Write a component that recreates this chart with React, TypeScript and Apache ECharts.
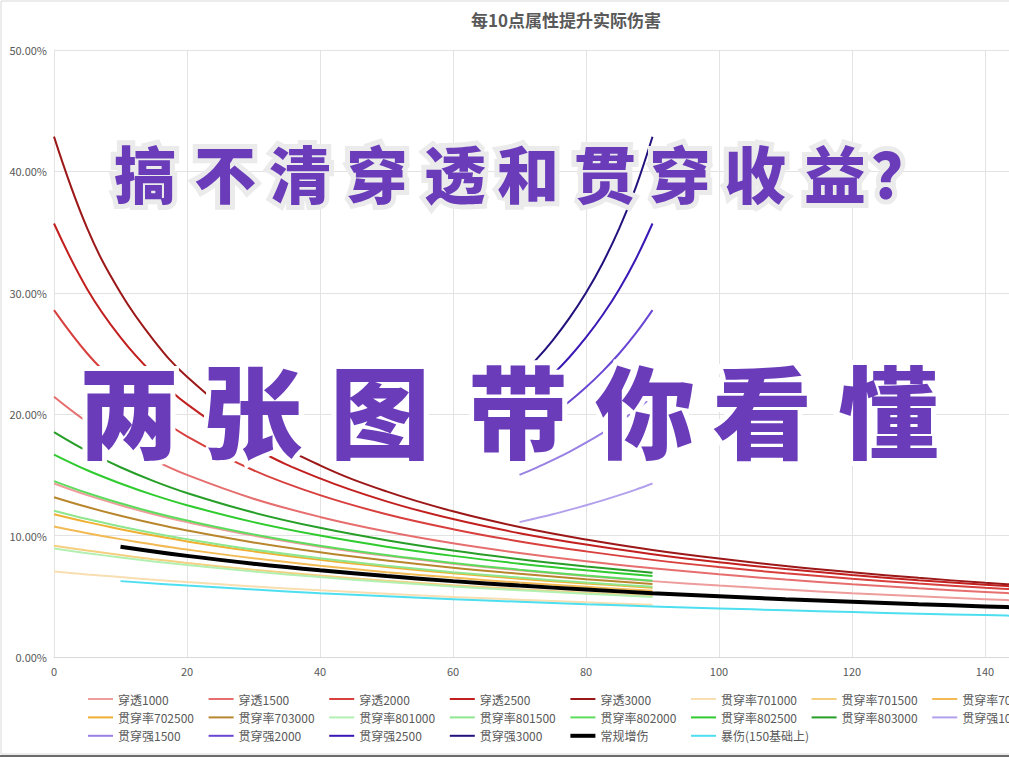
import React, { useEffect, useRef } from 'react';
import * as echarts from 'echarts';

const titleText = '每10点属性提升实际伤害';
const overlayLine1 = '搞不清穿透和贯穿收益？';
const overlayLine2 = '两张图带你看懂';

// x positions
const xPen = [0, 5, 10, 15, 20, 30, 40, 50, 60, 70, 80, 90, 100, 110, 120, 130, 140, 150];
const xRate = [0, 5, 10, 15, 20, 30, 40, 50, 60, 70, 80, 90];
const xStr = [70, 72.5, 75, 77.5, 80, 82.5, 85, 87.5, 90];
const xBase = [10, 20, 30, 40, 50, 60, 70, 80, 90, 100, 110, 120, 130, 140, 150];

// 穿透
const pen1000 = [14.29, 13.33, 12.5, 11.76, 11.11, 10.0, 9.09, 8.33, 7.69, 7.14, 6.67, 6.25, 5.88, 5.56, 5.26, 5.0, 4.76, 4.55];
const pen1500 = [21.43, 19.35, 17.65, 16.22, 15.0, 13.04, 11.54, 10.34, 9.37, 8.57, 7.89, 7.32, 6.82, 6.38, 6.0, 5.66, 5.36, 5.08];
const pen2000 = [28.57, 25.0, 22.22, 20.0, 18.18, 15.38, 13.33, 11.76, 10.53, 9.52, 8.7, 8.0, 7.41, 6.9, 6.45, 6.06, 5.71, 5.41];
const pen2500 = [35.71, 30.3, 26.32, 23.26, 20.83, 17.24, 14.71, 12.82, 11.36, 10.2, 9.26, 8.47, 7.81, 7.25, 6.76, 6.33, 5.95, 5.62];
const pen3000 = [42.86, 35.3, 30.0, 26.09, 23.08, 18.75, 15.79, 13.64, 12.0, 10.71, 9.68, 8.82, 8.11, 7.5, 6.98, 6.52, 6.12, 5.77];

// 贯穿率
const rate701000 = [7.04, 6.8, 6.58, 6.37, 6.17, 5.81, 5.49, 5.21, 4.95, 4.72, 4.5, 4.31];
const rate701500 = [9.17, 8.77, 8.4, 8.06, 7.75, 7.19, 6.71, 6.29, 5.92, 5.59, 5.29, 5.03];
const rate702000 = [10.75, 10.2, 9.71, 9.26, 8.85, 8.13, 7.52, 6.99, 6.54, 6.13, 5.78, 5.46];
const rate702500 = [11.76, 11.11, 10.53, 10.0, 9.52, 8.7, 8.0, 7.41, 6.9, 6.45, 6.06, 5.71];
const rate703000 = [13.16, 12.35, 11.63, 10.99, 10.42, 9.43, 8.62, 7.94, 7.35, 6.85, 6.41, 6.02];
const rate801000 = [8.93, 8.55, 8.2, 7.87, 7.58, 7.04, 6.58, 6.17, 5.81, 5.49, 5.21, 4.95];
const rate801500 = [12.05, 11.36, 10.75, 10.2, 9.71, 8.85, 8.13, 7.52, 6.99, 6.54, 6.13, 5.78];
const rate802000 = [14.49, 13.51, 12.66, 11.9, 11.24, 10.1, 9.17, 8.4, 7.75, 7.19, 6.71, 6.29];
const rate802500 = [16.67, 15.38, 14.29, 13.33, 12.5, 11.11, 10.0, 9.09, 8.33, 7.69, 7.14, 6.67];
const rate803000 = [18.52, 16.95, 15.63, 14.49, 13.51, 11.9, 10.64, 9.62, 8.77, 8.06, 7.46, 6.94];

// 贯穿强
const str1000 = [11.11, 11.43, 11.76, 12.12, 12.5, 12.9, 13.33, 13.79, 14.29];
const str1500 = [15.0, 15.58, 16.22, 16.9, 17.65, 18.46, 19.35, 20.34, 21.43];
const str2000 = [18.18, 19.05, 20.0, 21.05, 22.22, 23.53, 25.0, 26.67, 28.57];
const str2500 = [20.83, 21.98, 23.26, 24.69, 26.32, 28.17, 30.3, 32.79, 35.71];
const str3000 = [23.08, 24.49, 26.09, 27.91, 30.0, 32.44, 35.3, 38.71, 42.86];

// 常规增伤 / 暴伤
const normalDmg = [9.09, 8.33, 7.69, 7.14, 6.67, 6.25, 5.88, 5.56, 5.26, 5.0, 4.76, 4.55, 4.35, 4.17, 4.0];
const critDmg = [6.25, 5.88, 5.56, 5.26, 5.0, 4.76, 4.55, 4.35, 4.17, 4.0, 3.85, 3.7, 3.57, 3.45, 3.33];

const yTicks = [0, 10, 20, 30, 40, 50];
const xTicks = [0, 20, 40, 60, 80, 100, 120, 140, 160];

const seriesDefs = [
  { name: '穿透1000', xs: xPen, ys: pen1000, color: '#ee9c9c', w: 2 },
  { name: '穿透1500', xs: xPen, ys: pen1500, color: '#e66e6e', w: 2 },
  { name: '穿透2000', xs: xPen, ys: pen2000, color: '#d8403e', w: 2 },
  { name: '穿透2500', xs: xPen, ys: pen2500, color: '#c21f1f', w: 2 },
  { name: '穿透3000', xs: xPen, ys: pen3000, color: '#9c1818', w: 2 },
  { name: '贯穿率701000', xs: xRate, ys: rate701000, color: '#f8deb0', w: 2 },
  { name: '贯穿率701500', xs: xRate, ys: rate701500, color: '#f4cf80', w: 2 },
  { name: '贯穿率702000', xs: xRate, ys: rate702000, color: '#f2ba55', w: 2 },
  { name: '贯穿率702500', xs: xRate, ys: rate702500, color: '#efb032', w: 2 },
  { name: '贯穿率703000', xs: xRate, ys: rate703000, color: '#b8862c', w: 2 },
  { name: '贯穿率801000', xs: xRate, ys: rate801000, color: '#b2f0b2', w: 2 },
  { name: '贯穿率801500', xs: xRate, ys: rate801500, color: '#8ee68e', w: 2 },
  { name: '贯穿率802000', xs: xRate, ys: rate802000, color: '#5cdc5c', w: 2 },
  { name: '贯穿率802500', xs: xRate, ys: rate802500, color: '#2fcb2f', w: 2 },
  { name: '贯穿率803000', xs: xRate, ys: rate803000, color: '#279e27', w: 2 },
  { name: '贯穿强1000', xs: xStr, ys: str1000, color: '#b3a0ec', w: 2 },
  { name: '贯穿强1500', xs: xStr, ys: str1500, color: '#9880e4', w: 2 },
  { name: '贯穿强2000', xs: xStr, ys: str2000, color: '#6a46d4', w: 2 },
  { name: '贯穿强2500', xs: xStr, ys: str2500, color: '#3a18b6', w: 2 },
  { name: '贯穿强3000', xs: xStr, ys: str3000, color: '#23117e', w: 2 },
  { name: '常规增伤', xs: xBase, ys: normalDmg, color: '#000000', w: 4 },
  { name: '暴伤(150基础上)', xs: xBase, ys: critDmg, color: '#4ddff0', w: 2 },
];

const FONT = '"Noto Sans CJK SC", "Noto Sans", sans-serif';
const PURPLE = '#6a3cba';

export default function App() {
  const ref = useRef<HTMLDivElement>(null);
  useEffect(() => {
    const chart = echarts.init(ref.current!, null, { renderer: 'svg' });

    const legends = seriesDefs.map((s, k) => {
      const row = Math.floor(k / 8);
      const col = k % 8;
      return {
        data: [s.name],
        left: 88 + col * 120.6,
        top: 693 + row * 18.4,
        padding: 0,
        icon: 'rect',
        itemWidth: 25,
        itemHeight: s.w,
        itemGap: 0,
        selectedMode: false,
        itemStyle: { color: s.color, borderWidth: 0 },
        textStyle: { fontSize: 12, color: '#595959', fontFamily: FONT, lineHeight: 12 },
      };
    });

    const line1X = [145, 225, 300, 377, 455, 528, 605, 680, 755, 835, 902];
    const line2X = [129, 252, 380, 518, 645, 762, 888];
    const chars1 = Array.from(overlayLine1);
    const chars2 = Array.from(overlayLine2);

    const graphics: any[] = [
      {
        type: 'rect',
        shape: { x: 1, y: 1, width: 1128, height: 753 },
        style: { fill: 'none', stroke: '#d9d9d9', lineWidth: 1 },
        silent: true,
        z: 0,
      },
      {
        type: 'line',
        shape: { x1: 0, y1: 756, x2: 1132, y2: 756 },
        style: { stroke: '#6b6b6b', lineWidth: 2 },
        silent: true,
        z: 0,
      },
    ];
    chars1.forEach((c, i) => {
      graphics.push({
        type: 'text',
        x: line1X[i],
        y: 172,
        z: 100,
        silent: true,
        style: {
          text: c,
          fill: PURPLE,
          stroke: '#ebebeb',
          lineWidth: 10,
          fontSize: 62,
          fontWeight: 900,
          fontFamily: FONT,
          align: 'center',
          verticalAlign: 'middle',
        },
      });
    });
    chars2.forEach((c, i) => {
      graphics.push({
        type: 'text',
        x: line2X[i],
        y: 407,
        z: 101,
        silent: true,
        style: {
          text: c,
          fill: PURPLE,
          stroke: '#ffffff',
          lineWidth: 10,
          fontSize: 100,
          fontWeight: 900,
          fontFamily: FONT,
          align: 'center',
          verticalAlign: 'middle',
        },
      });
    });

    const option: any = {
      animation: false,
      backgroundColor: '#ffffff',
      textStyle: { fontFamily: FONT },
      title: {
        text: titleText,
        left: 'center',
        top: 6,
        textStyle: { fontSize: 17, fontWeight: 'bold', color: '#595959', fontFamily: FONT },
      },
      legend: legends,
      grid: { left: 54, top: 50, right: 14, height: 607 },
      xAxis: {
        type: 'value',
        min: xTicks[0],
        max: xTicks[xTicks.length - 1],
        interval: 20,
        axisLine: { show: true, lineStyle: { color: '#d9d9d9', width: 1 } },
        axisTick: { show: false },
        axisLabel: { color: '#595959', fontSize: 11, margin: 8 },
        splitLine: { show: true, lineStyle: { color: '#e3e3e3', width: 1 } },
      },
      yAxis: {
        type: 'value',
        min: yTicks[0],
        max: yTicks[yTicks.length - 1],
        interval: 10,
        axisLine: { show: true, lineStyle: { color: '#e3e3e3', width: 1 } },
        axisTick: { show: false },
        axisLabel: {
          color: '#595959',
          fontSize: 11,
          margin: 7,
          formatter: (v: number) => v.toFixed(2) + '%',
        },
        splitLine: { show: true, lineStyle: { color: '#e3e3e3', width: 1 } },
      },
      series: seriesDefs.map((s) => ({
        name: s.name,
        type: 'line',
        data: s.xs.map((x, i) => [x, s.ys[i]]),
        smooth: 0.4,
        symbol: 'none',
        showSymbol: false,
        silent: true,
        color: s.color,
        lineStyle: { color: s.color, width: s.w },
        emphasis: { disabled: true },
      })),
      graphic: graphics,
    };
    chart.setOption(option);
    return () => chart.dispose();
  }, []);
  return (
    <div
      style={{
        position: 'fixed',
        left: 0,
        top: 0,
        width: 1009,
        height: 757,
        overflow: 'hidden',
        background: '#ffffff',
      }}
    >
      <div ref={ref} style={{ width: 1132, height: 757 }} />
    </div>
  );
}
